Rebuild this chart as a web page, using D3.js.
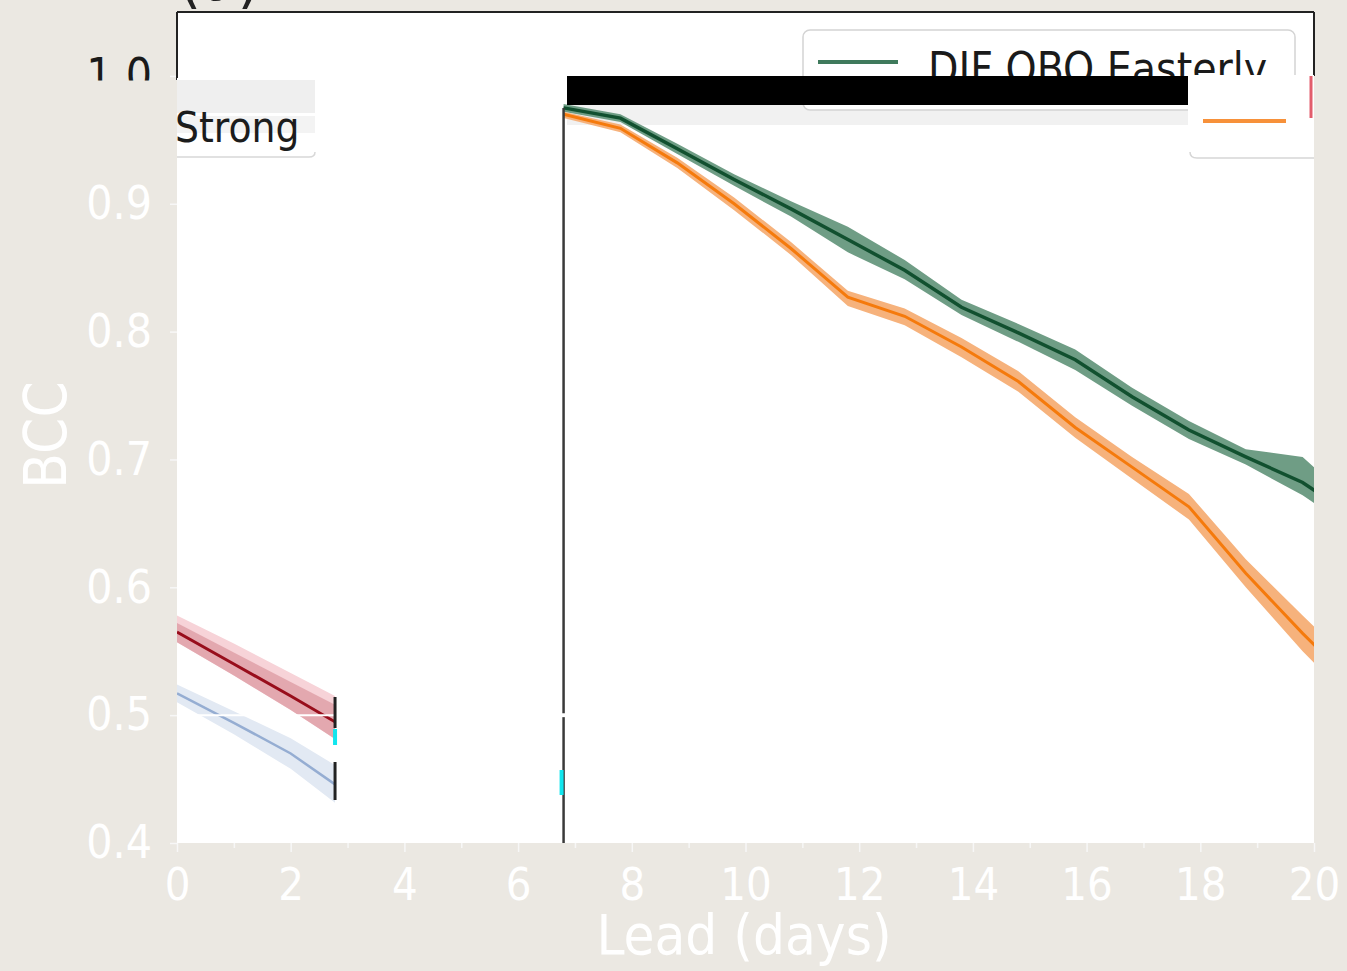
<!DOCTYPE html>
<html>
<head>
<meta charset="utf-8">
<script src="https://cdn.jsdelivr.net/npm/d3@7"></script>
<style>
  html, body { margin: 0; padding: 0; background: #ebe8e2; overflow: hidden; }
  svg text { font-family: "DejaVu Sans Condensed", "DejaVu Sans", sans-serif; }
</style>
</head>
<body>
<script>
// lead times (days) and BCC values
var leadLate   = [6.8, 7.8, 8.8, 9.8, 10.8, 11.8, 12.8, 13.8, 14.8, 15.8, 16.8, 17.8, 18.8, 19.8, 20.8];
var eastMean   = [0.975, 0.967, 0.943, 0.919, 0.896, 0.872, 0.848, 0.819, 0.799, 0.778, 0.749, 0.723, 0.702, 0.682, 0.652];
var eastLo     = [0.972, 0.964, 0.939, 0.914, 0.890, 0.862, 0.841, 0.813, 0.792, 0.770, 0.742, 0.716, 0.696, 0.672, 0.642];
var eastHi     = [0.978, 0.970, 0.947, 0.923, 0.902, 0.882, 0.856, 0.825, 0.806, 0.786, 0.756, 0.730, 0.708, 0.702, 0.662];
var westMean   = [0.970, 0.959, 0.932, 0.900, 0.865, 0.827, 0.812, 0.788, 0.761, 0.725, 0.694, 0.663, 0.611, 0.564, 0.520];
var westLo     = [0.967, 0.956, 0.928, 0.895, 0.860, 0.820, 0.805, 0.780, 0.753, 0.717, 0.685, 0.653, 0.600, 0.550, 0.505];
var westHi     = [0.972, 0.962, 0.936, 0.905, 0.870, 0.832, 0.818, 0.795, 0.769, 0.733, 0.702, 0.673, 0.622, 0.578, 0.535];

var leadEarly  = [0, 1, 2, 3];
var strongMean = [0.565, 0.540, 0.515, 0.489];
var strongLo   = [0.557, 0.531, 0.504, 0.475];
var strongHi   = [0.572, 0.549, 0.526, 0.503];
var strongOut  = [0.578, 0.556, 0.533, 0.510];
var weakMean   = [0.517, 0.494, 0.470, 0.439];
var weakLo     = [0.510, 0.485, 0.458, 0.424];
var weakHi     = [0.524, 0.503, 0.482, 0.455];

var xTicks = [0, 2, 4, 6, 8, 10, 12, 14, 16, 18, 20];
var xMinor = [1, 3, 5, 7, 9, 11, 13, 15, 17, 19];
var yTicks = [0.4, 0.5, 0.6, 0.7, 0.8, 0.9, 1.0];
var earlyCut = 2.78, splitLead = 6.8;

var width = 1347, height = 971;
var x = d3.scaleLinear().domain([0, 20]).range([177, 1314]),
    y = d3.scaleLinear().domain([0.4, 1.05]).range([843, 12]);

var svg = d3.select("body").append("svg").attr("width", width).attr("height", height);
var defs = svg.append("defs");
defs.append("clipPath").attr("id", "plotClip").append("rect")
    .attr("x", x(0)).attr("y", y(1.05)).attr("width", x(20) - x(0)).attr("height", y(0.4) - y(1.05));
defs.append("clipPath").attr("id", "earlyClip").append("rect")
    .attr("x", x(0)).attr("y", y(1.05)).attr("width", x(earlyCut) - x(0)).attr("height", y(0.4) - y(1.05));
// local coords of the tick group: keep only the top of the "1.0" label
defs.append("clipPath").attr("id", "topLabelClip").append("rect")
    .attr("x", -200).attr("y", -40).attr("width", 200).attr("height", 44);

svg.append("rect").attr("width", width).attr("height", height).attr("fill", "#ebe8e2");

// white axes area
svg.append("rect")
    .attr("x", x(0)).attr("y", y(1.05))
    .attr("width", x(20) - x(0)).attr("height", y(0.4) - y(1.05))
    .attr("fill", "#ffffff");

// pale strip left behind under the black bar
svg.append("rect").attr("x", 567).attr("y", 105).attr("width", 621).attr("height", 20).attr("fill", "#f1f1f1");

function band(xs, lo, hi) {
  return d3.area().x(function(d, i) { return x(xs[i]); })
    .y0(function(d, i) { return y(lo[i]); })
    .y1(function(d, i) { return y(hi[i]); })(xs);
}
function line(xs, ys) {
  return d3.line().x(function(d, i) { return x(xs[i]); })
    .y(function(d, i) { return y(ys[i]); })(xs);
}

// late-lead series
var late = svg.append("g").attr("clip-path", "url(#plotClip)");
late.append("path").attr("d", band(leadLate, eastLo, eastHi)).attr("fill", "#6f9d85");
late.append("path").attr("d", line(leadLate, eastMean)).attr("fill", "none").attr("stroke", "#11502f").attr("stroke-width", 3.5);
late.append("path").attr("d", band(leadLate, westLo, westHi)).attr("fill", "#f6b27c");
late.append("path").attr("d", line(leadLate, westMean)).attr("fill", "none").attr("stroke", "#f57a0c").attr("stroke-width", 3);

// early-lead series
var early = svg.append("g").attr("clip-path", "url(#earlyClip)");
early.append("path").attr("d", band(leadEarly, strongLo, strongOut)).attr("fill", "#f7d3d8");
early.append("path").attr("d", band(leadEarly, strongLo, strongHi)).attr("fill", "#dc9aa2").attr("opacity", 0.75);
early.append("path").attr("d", line(leadEarly, strongMean)).attr("fill", "none").attr("stroke", "#980d1b").attr("stroke-width", 3);
early.append("path").attr("d", band(leadEarly, weakLo, weakHi)).attr("fill", "#e2e9f3");
early.append("path").attr("d", line(leadEarly, weakMean)).attr("fill", "none").attr("stroke", "#95add2").attr("stroke-width", 2.5);
early.append("line")
    .attr("x1", x(0)).attr("x2", x(earlyCut)).attr("y1", y(0.5)).attr("y2", y(0.5))
    .attr("stroke", "#ffffff").attr("stroke-width", 2);

// cut marks
svg.append("line").attr("x1", x(earlyCut)).attr("x2", x(earlyCut)).attr("y1", 697).attr("y2", 728).attr("stroke", "#222").attr("stroke-width", 3);
svg.append("line").attr("x1", x(earlyCut)).attr("x2", x(earlyCut)).attr("y1", 762).attr("y2", 800).attr("stroke", "#222").attr("stroke-width", 3);
svg.append("rect").attr("x", x(earlyCut) - 2).attr("y", 729).attr("width", 4).attr("height", 16).attr("fill", "#11e6ee");

svg.append("line").attr("x1", x(splitLead)).attr("x2", x(splitLead)).attr("y1", 108).attr("y2", y(0.5) - 2).attr("stroke", "#3a3a3a").attr("stroke-width", 2.5);
svg.append("line").attr("x1", x(splitLead)).attr("x2", x(splitLead)).attr("y1", y(0.5) + 2).attr("y2", y(0.4)).attr("stroke", "#3a3a3a").attr("stroke-width", 2.5);
svg.append("rect").attr("x", x(splitLead) - 4).attr("y", 770).attr("width", 4).attr("height", 25).attr("fill", "#11e6ee");

// axes
var xAxis = svg.append("g").attr("transform", "translate(0," + y(0.4) + ")")
    .call(d3.axisBottom(x).tickValues(xTicks).tickSize(9).tickPadding(16).tickFormat(d3.format("d")));
svg.append("g").attr("transform", "translate(0," + y(0.4) + ")")
    .call(d3.axisBottom(x).tickValues(xMinor).tickSize(5).tickFormat(""));
var yAxis = svg.append("g").attr("transform", "translate(" + x(0) + ",0)")
    .call(d3.axisLeft(y).tickValues(yTicks).tickSize(7).tickPadding(18).tickFormat(d3.format(".1f")));

svg.selectAll(".domain").remove();
svg.selectAll(".tick line").attr("stroke", "#f7f7f7").attr("stroke-width", 1.5);
xAxis.selectAll("text").attr("fill", "#ffffff").style("font-size", "45px");
yAxis.selectAll("text").attr("fill", "#ffffff").style("font-size", "46px");
yAxis.selectAll(".tick").filter(function(d) { return d === 1.0; }).select("text")
    .attr("fill", "#1a1a1a").attr("clip-path", "url(#topLabelClip)");

svg.append("text")
    .attr("transform", "translate(66,435) rotate(-90)")
    .attr("text-anchor", "middle").attr("fill", "#ffffff").style("font-size", "58px")
    .text("BCC");
svg.append("text")
    .attr("x", 744).attr("y", 954)
    .attr("text-anchor", "middle").attr("fill", "#ffffff").style("font-size", "56px")
    .text("Lead (days)");

// frame pieces still visible
svg.append("line").attr("x1", x(0)).attr("x2", x(20)).attr("y1", 12).attr("y2", 12).attr("stroke", "#222").attr("stroke-width", 2);
svg.append("line").attr("x1", x(0)).attr("x2", x(0)).attr("y1", 12).attr("y2", 80).attr("stroke", "#222").attr("stroke-width", 2);
svg.append("line").attr("x1", x(20)).attr("x2", x(20)).attr("y1", 12).attr("y2", 76).attr("stroke", "#222").attr("stroke-width", 2);

// panel title, mostly above the page edge as in the source
svg.append("text").attr("x", 178).attr("y", 0).attr("fill", "#222").style("font-size", "66px").text("(a)");

// legend (right)
svg.append("rect").attr("x", 803).attr("y", 30).attr("width", 492).attr("height", 80).attr("rx", 7)
    .attr("fill", "#ffffff").attr("stroke", "#d4d4d4").attr("stroke-width", 1.5);
svg.append("line").attr("x1", 818).attr("x2", 898).attr("y1", 62).attr("y2", 62).attr("stroke", "#3f7a5c").attr("stroke-width", 4);
svg.append("text").attr("x", 928).attr("y", 84).attr("fill", "#1a1a1a").style("font-size", "44px").text("DJF QBO Easterly");

// black bar
svg.append("rect").attr("x", 567).attr("y", 76).attr("width", 621).attr("height", 29).attr("fill", "#000000");

// right fragment
svg.append("rect").attr("x", 1188).attr("y", 75).attr("width", x(20) - 1188).attr("height", 83).attr("fill", "#ffffff");
svg.append("line").attr("x1", 1203).attr("x2", 1286).attr("y1", 121).attr("y2", 121).attr("stroke", "#f7913a").attr("stroke-width", 4);
svg.append("line").attr("x1", 1311).attr("x2", 1311).attr("y1", 76).attr("y2", 118).attr("stroke", "#e25d6c").attr("stroke-width", 3);
svg.append("path").attr("d", "M1190,152 Q1190,158 1197,158 L1314,158").attr("fill", "none").attr("stroke", "#d6d6d6").attr("stroke-width", 1.5);

// left fragment
svg.append("rect").attr("x", 177).attr("y", 78).attr("width", 138).attr("height", 80).attr("fill", "#ffffff");
svg.append("rect").attr("x", 177).attr("y", 80).attr("width", 138).attr("height", 33).attr("fill", "#efefef");
svg.append("rect").attr("x", 177).attr("y", 116).attr("width", 138).attr("height", 17).attr("fill", "#f3f3f3");
svg.append("text").attr("x", 175).attr("y", 142).attr("fill", "#1c1c1c").style("font-size", "42px").text("Strong");
svg.append("path").attr("d", "M177,157 L309,157 Q315,157 315,152").attr("fill", "none").attr("stroke", "#d8d8d8").attr("stroke-width", 1.5);
</script>
</body>
</html>
